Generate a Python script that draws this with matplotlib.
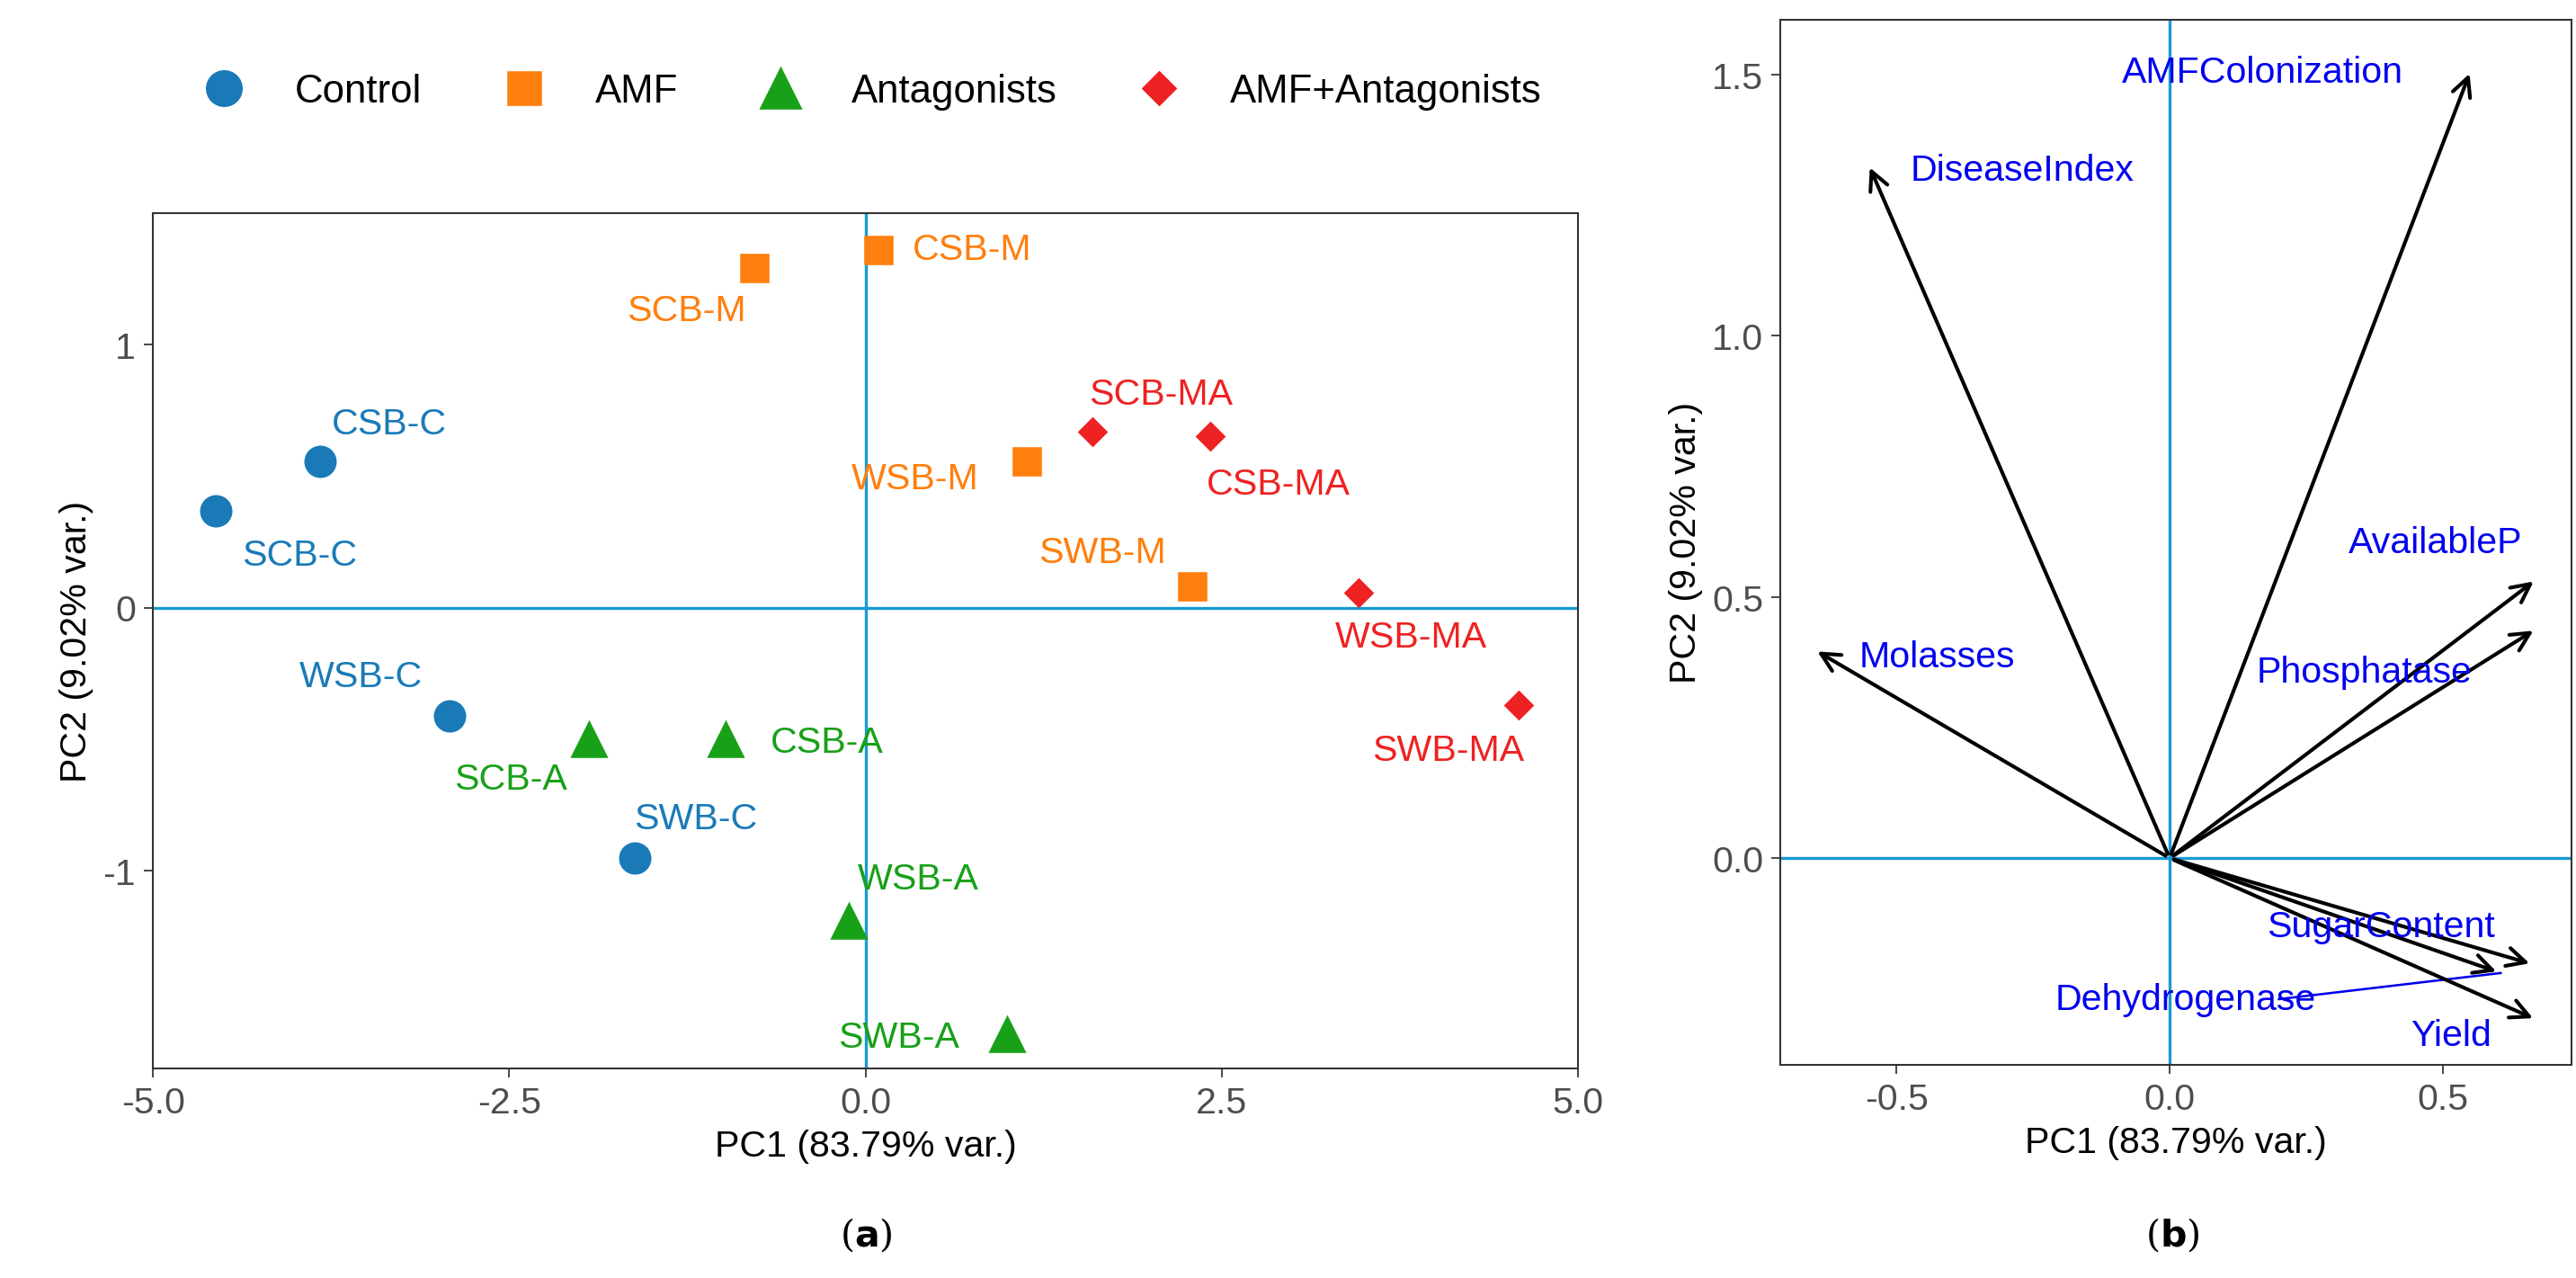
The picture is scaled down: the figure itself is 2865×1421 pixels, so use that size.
import matplotlib
matplotlib.use("Agg")
import matplotlib.pyplot as plt

plt.rcParams['font.family'] = ['Liberation Sans', 'DejaVu Sans']
plt.rcParams['axes.unicode_minus'] = False

groups = ["Control", "AMF", "Antagonists", "AMF+Antagonists"]
colors = ["#1a7ab8", "#ff7f0e", "#18a018", "#ee2222"]
markers = ["o", "s", "^", "D"]
msizes = [13, 12, 15, 8.5]

names = [["CSB-C", "SCB-C", "WSB-C", "SWB-C"],
         ["SCB-M", "CSB-M", "WSB-M", "SWB-M"],
         ["SCB-A", "CSB-A", "WSB-A", "SWB-A"],
         ["SCB-MA", "CSB-MA", "WSB-MA", "SWB-MA"]]
pc1 = [[-3.83, -4.56, -2.92, -1.62],
       [-0.78, 0.09, 1.13, 2.29],
       [-1.94, -0.98, -0.12, 0.99],
       [1.59, 2.42, 3.46, 4.58]]
pc2 = [[0.557, 0.367, -0.41, -0.95],
       [1.29, 1.36, 0.557, 0.08],
       [-0.50, -0.50, -1.19, -1.62],
       [0.67, 0.65, 0.057, -0.37]]
lab_x = [[-3.34, -3.97, -3.54, -1.19],
         [-1.26, 0.75, 0.35, 1.66],
         [-2.49, -0.27, 0.37, 0.23],
         [2.07, 2.90, 3.83, 4.09]]
lab_y = [[0.70, 0.20, -0.26, -0.80],
         [1.13, 1.36, 0.49, 0.21],
         [-0.65, -0.51, -1.03, -1.63],
         [0.81, 0.47, -0.11, -0.54]]

vars_ = ["AMFColonization", "DiseaseIndex", "AvailableP", "Phosphatase",
         "Molasses", "SugarContent", "Dehydrogenase", "Yield"]
ld1 = [0.552, -0.552, 0.673, 0.673, -0.652, 0.667, 0.606, 0.673]
ld2 = [1.51, 1.33, 0.535, 0.44, 0.40, -0.204, -0.22, -0.31]
vl_x = [0.17, -0.27, 0.486, 0.356, -0.425, 0.386, 0.03, 0.515]
vl_y = [1.505, 1.317, 0.605, 0.356, 0.385, -0.13, -0.27, -0.34]

fig = plt.figure(figsize=(15.48, 7.68), dpi=185.14)
axa = fig.add_axes([0.0594, 0.164, 0.553, 0.669])
axb = fig.add_axes([0.691, 0.167, 0.307, 0.817])

hl = "#1a9ad6"
for ax in (axa, axb):
    ax.axhline(0, color=hl, lw=1.3, zorder=1)
    ax.axvline(0, color=hl, lw=1.3, zorder=1)
    for s in ax.spines.values():
        s.set_color("#333333")
    ax.tick_params(labelsize=16, colors="#4d4d4d", length=4)

for g in range(4):
    axa.plot(pc1[g], pc2[g], ls="none", marker=markers[g], ms=msizes[g],
             color=colors[g], label=groups[g], zorder=3)
    for i in range(4):
        axa.text(lab_x[g][i], lab_y[g][i], names[g][i], color=colors[g],
                 fontsize=16, ha="center", va="center")
axa.set_xlim(-5.0, 5.0)
axa.set_ylim(-1.75, 1.5)
axa.set_xticks([-5.0, -2.5, 0.0, 2.5, 5.0])
axa.set_xticklabels(["-5.0", "-2.5", "0.0", "2.5", "5.0"])
axa.set_yticks([-1, 0, 1])
axa.set_yticklabels(["-1", "0", "1"])
axa.set_xlabel("PC1 (83.79% var.)", fontsize=16)
axa.set_ylabel("PC2 (9.02% var.)", fontsize=16)

fig.legend(loc="center", bbox_to_anchor=(0.335, 0.928), ncol=4, frameon=False,
           fontsize=17, handletextpad=0.8, columnspacing=1.6, markerscale=1.15)

for i, v in enumerate(vars_):
    axb.annotate("", xy=(ld1[i], ld2[i]), xytext=(0, 0),
                 arrowprops=dict(arrowstyle="->", color="black", lw=1.6,
                                 mutation_scale=20), zorder=3)
    axb.text(vl_x[i], vl_y[i], v, color="#0000ee", fontsize=16,
             ha="center", va="center", zorder=4)
axb.plot([0.2, ld1[6]], [-0.27, ld2[6]], color="#0000ee", lw=1)
axb.set_xlim(-0.712, 0.736)
axb.set_ylim(-0.395, 1.605)
axb.set_xticks([-0.5, 0.0, 0.5])
axb.set_yticks([0.0, 0.5, 1.0, 1.5])
axb.set_xlabel("PC1 (83.79% var.)", fontsize=16)
axb.set_ylabel("PC2 (9.02% var.)", fontsize=16)

fig.text(0.336, 0.034, r"($\mathbf{a}$)", ha="center", va="center",
         fontsize=16, family="DejaVu Serif")
fig.text(0.843, 0.034, r"($\mathbf{b}$)", ha="center", va="center",
         fontsize=16, family="DejaVu Serif")

fig.savefig("out.png", dpi=185.14)
